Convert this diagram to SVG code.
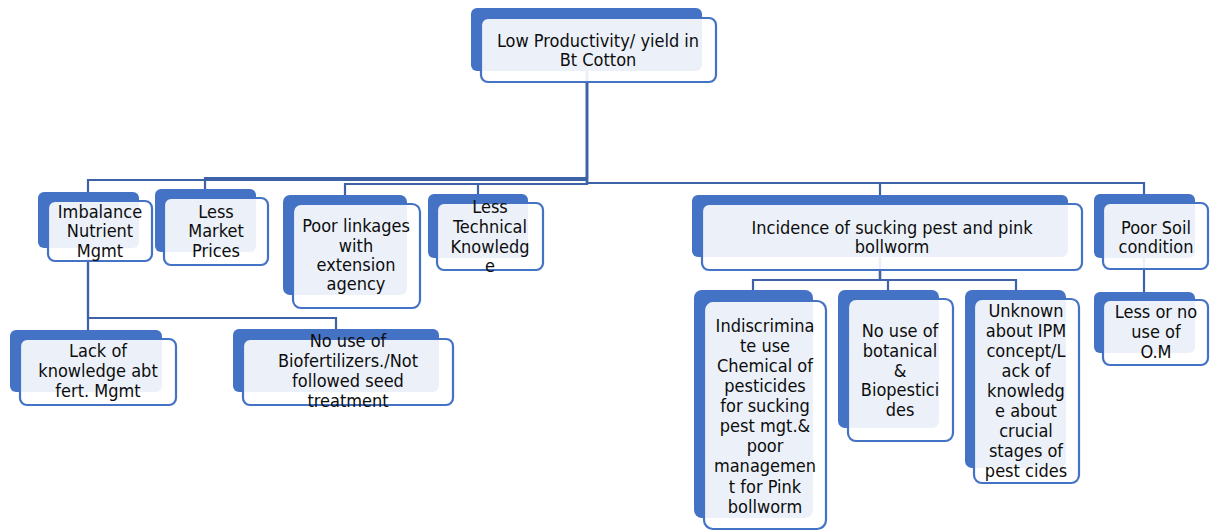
<svg xmlns="http://www.w3.org/2000/svg" width="1212" height="532" viewBox="0 0 1212 532">
<style>
.bk{fill:#4472C4}
.fr{fill:#ffffff;fill-opacity:0.9;stroke:#4472C4;stroke-width:2.2}
.t{font-family:"DejaVu Sans Condensed","DejaVu Sans",sans-serif;font-stretch:condensed;font-size:18px;text-anchor:middle;fill:#0d0d0d}
.c{fill:none;stroke:#3D62A8;stroke-width:2.2}
</style>
<rect width="1212" height="532" fill="#ffffff"/>
<g id="connectors">
<path class="c" d="M587,70 V180 H88 V192"/>
<path class="c" d="M587,70 V178 H205 V189"/>
<path class="c" d="M587,70 V184 H345 V195"/>
<path class="c" d="M587,70 V184 H478 V194"/>
<path class="c" d="M587,70 V183 H880 V195"/>
<path class="c" d="M587,70 V183 H1144 V194"/>
<path class="c" d="M88,248 V318 H88 V330"/>
<path class="c" d="M88,248 V318 H336 V329"/>
<path class="c" d="M880,257 V280 H753 V290"/>
<path class="c" d="M880,257 V280 H888 V290"/>
<path class="c" d="M880,257 V280 H1016 V290"/>
<path class="c" d="M1144,258 V292"/>
</g>
<g id="n-root">
<rect class="bk" x="471" y="8" width="231" height="63" rx="6"/>
<rect class="fr" x="481" y="18" width="235" height="64" rx="7"/>
<text class="t"><tspan x="598" y="47">Low Productivity/ yield in</tspan><tspan x="598" y="66">Bt Cotton</tspan></text>
</g>
<g id="n-imbalance">
<rect class="bk" x="38" y="192" width="101" height="56" rx="6"/>
<rect class="fr" x="48" y="201" width="104" height="60" rx="7"/>
<text class="t"><tspan x="100" y="218">Imbalance</tspan><tspan x="100" y="237">Nutrient</tspan><tspan x="100" y="257">Mgmt</tspan></text>
</g>
<g id="n-market">
<rect class="bk" x="155" y="189" width="101" height="63" rx="6"/>
<rect class="fr" x="164" y="198" width="104" height="67" rx="7"/>
<text class="t"><tspan x="216" y="218">Less</tspan><tspan x="216" y="237">Market</tspan><tspan x="216" y="257">Prices</tspan></text>
</g>
<g id="n-linkages">
<rect class="bk" x="283" y="195" width="124" height="100" rx="7"/>
<rect class="fr" x="293" y="204" width="127" height="104" rx="8"/>
<text class="t"><tspan x="356" y="232">Poor linkages</tspan><tspan x="356" y="252">with</tspan><tspan x="356" y="271">extension</tspan><tspan x="356" y="290">agency</tspan></text>
</g>
<g id="n-technical">
<rect class="bk" x="428" y="194" width="100" height="64" rx="6"/>
<rect class="fr" x="437" y="203" width="106" height="67" rx="7"/>
<text class="t"><tspan x="490" y="213">Less</tspan><tspan x="490" y="233">Technical</tspan><tspan x="490" y="253">Knowledg</tspan><tspan x="490" y="272">e</tspan></text>
</g>
<g id="n-incidence">
<rect class="bk" x="692" y="195" width="376" height="62" rx="6"/>
<rect class="fr" x="702" y="204" width="380" height="66" rx="7"/>
<text class="t"><tspan x="892" y="234">Incidence of sucking pest and pink</tspan><tspan x="892" y="253">bollworm</tspan></text>
</g>
<g id="n-soil">
<rect class="bk" x="1094" y="194" width="101" height="64" rx="6"/>
<rect class="fr" x="1103" y="203" width="105" height="66" rx="7"/>
<text class="t"><tspan x="1156" y="234">Poor Soil</tspan><tspan x="1156" y="253">condition</tspan></text>
</g>
<g id="n-om">
<rect class="bk" x="1094" y="292" width="101" height="61" rx="6"/>
<rect class="fr" x="1103" y="300" width="105" height="65" rx="7"/>
<text class="t"><tspan x="1156" y="318">Less or no</tspan><tspan x="1156" y="338">use of</tspan><tspan x="1156" y="358">O.M</tspan></text>
</g>
<g id="n-lack">
<rect class="bk" x="10" y="330" width="152" height="62" rx="6"/>
<rect class="fr" x="20" y="339" width="156" height="66" rx="7"/>
<text class="t"><tspan x="98" y="357">Lack of</tspan><tspan x="98" y="377">knowledge abt</tspan><tspan x="98" y="397">fert. Mgmt</tspan></text>
</g>
<g id="n-biofert">
<rect class="bk" x="233" y="329" width="206" height="63" rx="6"/>
<rect class="fr" x="243" y="339" width="210" height="66" rx="7"/>
<text class="t"><tspan x="348" y="347">No use of</tspan><tspan x="348" y="367">Biofertilizers./Not</tspan><tspan x="348" y="387">followed seed</tspan><tspan x="348" y="407">treatment</tspan></text>
</g>
<g id="n-indiscriminate">
<rect class="bk" x="694" y="290" width="119" height="228" rx="8"/>
<rect class="fr" x="704" y="301" width="122" height="228" rx="9"/>
<text class="t"><tspan x="765" y="332">Indiscrimina</tspan><tspan x="765" y="352">te use</tspan><tspan x="765" y="372">Chemical of</tspan><tspan x="765" y="392">pesticides</tspan><tspan x="765" y="412">for sucking</tspan><tspan x="765" y="432">pest mgt.&amp;</tspan><tspan x="765" y="452">poor</tspan><tspan x="765" y="472">managemen</tspan><tspan x="765" y="493">t for Pink</tspan><tspan x="765" y="513">bollworm</tspan></text>
</g>
<g id="n-botanical">
<rect class="bk" x="838" y="290" width="101" height="138" rx="7"/>
<rect class="fr" x="848" y="299" width="105" height="142" rx="8"/>
<text class="t"><tspan x="900" y="337">No use of</tspan><tspan x="900" y="357">botanical</tspan><tspan x="900" y="377">&amp;</tspan><tspan x="900" y="396">Biopestici</tspan><tspan x="900" y="416">des</tspan></text>
</g>
<g id="n-ipm">
<rect class="bk" x="965" y="290" width="101" height="178" rx="7"/>
<rect class="fr" x="974" y="299" width="105" height="184" rx="8"/>
<text class="t"><tspan x="1026" y="317">Unknown</tspan><tspan x="1026" y="337">about IPM</tspan><tspan x="1026" y="357">concept/L</tspan><tspan x="1026" y="377">ack of</tspan><tspan x="1026" y="397">knowledg</tspan><tspan x="1026" y="417">e about</tspan><tspan x="1026" y="437">crucial</tspan><tspan x="1026" y="457">stages of</tspan><tspan x="1026" y="477">pest cides</tspan></text>
</g>
</svg>
